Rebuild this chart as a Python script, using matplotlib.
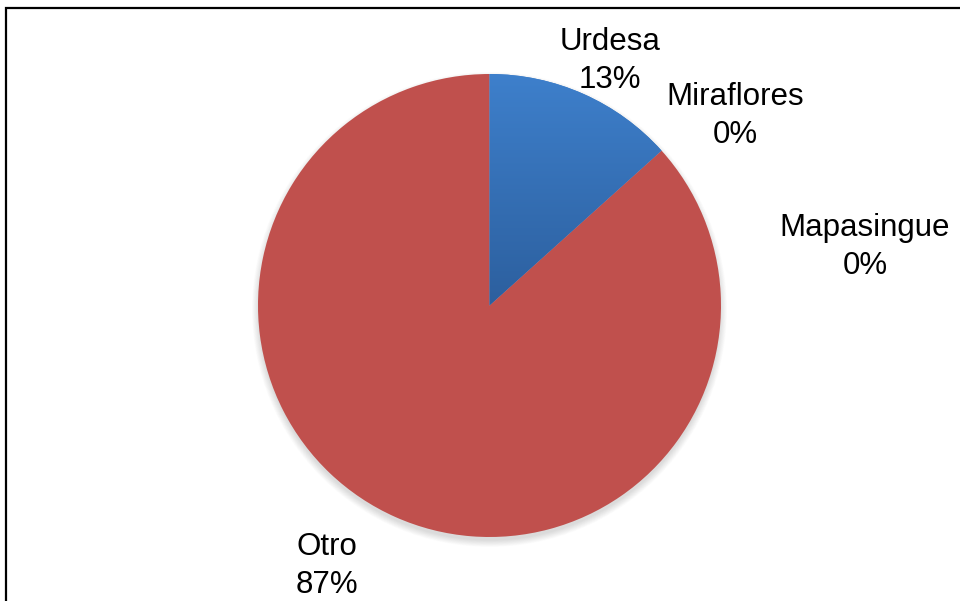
import numpy as np
import matplotlib
matplotlib.use("Agg")
import matplotlib.pyplot as plt
from matplotlib.patches import Circle, Rectangle
from matplotlib.colors import LinearSegmentedColormap

categories = ["Urdesa", "Miraflores", "Mapasingue", "Otro"]
values = [2, 0, 0, 13]
colors = ["#3A7AC6", "#9BBB59", "#8064A2", "#C0504D"]

# label positions (pixel coords, y from top)
label_pos = [(610, 61), (735, 116), (865, 247), (327, 566)]

W, H = 960, 601
fig = plt.figure(figsize=(9.6, 6.01), dpi=100)
ax = fig.add_axes([0, 0, 1, 1])
ax.set_xlim(0, W)
ax.set_ylim(0, H)
ax.set_aspect("equal")
ax.axis("off")

cx, cy, r = 489.5, H - 305.5, 231.5

# frame
ax.add_patch(Rectangle((5.5, -10), W + 20, H - 7.5 + 10, fill=False, lw=1.6, ec="black", zorder=0))

# soft shadow
for i in range(12):
    ax.add_patch(Circle((cx, cy - 4), r + 6 - i * 0.6, color="#000000", alpha=0.012, lw=0, zorder=1))

total = sum(values)
wedges, _ = ax.pie(values, colors=colors, startangle=90, counterclock=False,
                   center=(cx, cy), radius=r, frame=True,
                   wedgeprops=dict(linewidth=0, zorder=2))
ax.set_xlim(0, W)
ax.set_ylim(0, H)
ax.axis("off")

# gradient on Urdesa slice
cmap = LinearSegmentedColormap.from_list("blu", ["#2C5F9E", "#3E80CC"])
grad = np.linspace(0, 1, 256).reshape(-1, 1)
im = ax.imshow(grad, cmap=cmap, origin="lower", aspect="auto",
               extent=(cx - 2, cx + r + 2, cy - 2, cy + r + 2), zorder=3)
im.set_clip_path(wedges[0])

for cat, v, (lx, ly) in zip(categories, values, label_pos):
    pct = 100.0 * v / total
    ax.text(lx, H - ly, f"{cat}\n{pct:.0f}%", ha="center", va="center",
            fontsize=22.5, family="Liberation Sans", linespacing=1.32, zorder=5)

fig.savefig("out.png", dpi=100)
